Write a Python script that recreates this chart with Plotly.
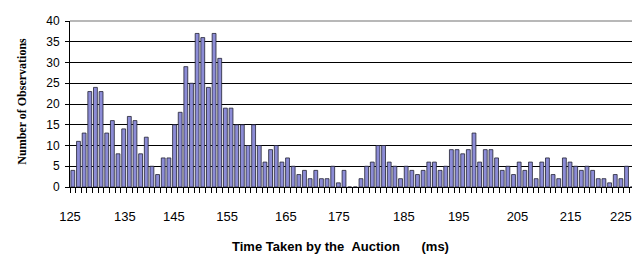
import plotly.graph_objects as go

# Number of observations per time bin (one bar per category, left to right)
counts = [4, 11, 13, 23, 24, 23, 13, 16, 8, 14,
          17, 16, 8, 12, 5, 3, 7, 7, 15, 18,
          29, 25, 37, 36, 24, 37, 31, 19, 19, 15,
          15, 10, 15, 10, 6, 9, 10, 6, 7, 5,
          3, 4, 2, 4, 2, 2, 5, 1, 4, 0,
          0, 2, 5, 6, 10, 10, 6, 5, 2, 5,
          4, 3, 4, 6, 6, 4, 5, 9, 9, 8,
          9, 13, 6, 9, 9, 7, 4, 5, 3, 6,
          4, 6, 2, 6, 7, 3, 2, 7, 6, 5,
          4, 5, 4, 2, 2, 1, 3, 2, 5, 0]

# x tick labels and the category positions where they sit in the original
tick_labels = ["125", "135", "145", "155", "165", "175", "185", "195", "205", "215", "225"]
tick_positions = [-0.5, 9.2, 17.9, 27.3, 37.7, 47.1, 58.6, 68.3, 78.7, 88.1, 97.0]

y_ticks = [0, 5, 10, 15, 20, 25, 30, 35, 40]

categories = list(range(len(counts)))

fig = go.Figure()
fig.add_trace(go.Bar(
    x=categories, y=counts,
    marker=dict(color="#8c8cd6", line=dict(color="#222233", width=0.8)),
    showlegend=False,
))

# the page body adds an 8 px margin, so the figure is sized/offset to compensate
fig.update_layout(
    width=632, height=262,
    margin=dict(l=62, r=5, t=13, b=83, autoexpand=False),
    paper_bgcolor="white", plot_bgcolor="white",
    bargap=0.32,
    font=dict(family="Liberation Sans, Arial, sans-serif", color="black"),
    xaxis=dict(
        automargin=False,
        range=[-0.5, len(counts) - 0.5],
        tickmode="array", tickvals=tick_positions, ticktext=tick_labels,
        ticks="outside", ticklen=17, tickcolor="rgba(0,0,0,0)",
        tickfont=dict(size=13, family="Liberation Sans, Arial, sans-serif"),
        showgrid=False, zeroline=False,
        showline=True, linecolor="black", linewidth=1,
        minor=dict(ticks="outside", ticklen=5, tickcolor="black", tickwidth=1,
                   tickmode="linear", tick0=-0.5, dtick=1, showgrid=False),
    ),
    yaxis=dict(
        automargin=False,
        range=[0, 40],
        tickmode="array", tickvals=y_ticks,
        ticks="outside", ticklen=4, tickcolor="black",
        tickfont=dict(size=12, family="Liberation Sans, Arial, sans-serif"),
        ticklabelstandoff=3,
        showgrid=True, gridcolor="black", gridwidth=1,
        zeroline=False,
        showline=True, linecolor="black", linewidth=1,
    ),
    shapes=[
        # gray plot border (top and right)
        dict(type="line", xref="paper", yref="paper", x0=0, x1=1, y0=1, y1=1,
             line=dict(color="#a0a0a0", width=1.5)),
        dict(type="line", xref="paper", yref="paper", x0=1, x1=1, y0=0, y1=1,
             line=dict(color="#a0a0a0", width=1)),
    ],
    annotations=[
        dict(text="Time Taken by the \u00a0Auction \u00a0\u00a0\u00a0\u00a0\u00a0(ms)",
             xref="paper", yref="paper", x=0.478, y=-0.36,
             xanchor="center", yanchor="middle", showarrow=False,
             font=dict(size=13, family="Liberation Sans, Arial, sans-serif", color="black", weight="bold")),
        dict(text="Number of Observations",
             xref="paper", yref="paper", x=-0.085, y=0.52,
             xanchor="center", yanchor="middle", showarrow=False, textangle=-90,
             font=dict(size=12, family="Liberation Serif, Times New Roman, serif", color="black", weight="bold")),
    ],
)

fig.write_html("out.html")
